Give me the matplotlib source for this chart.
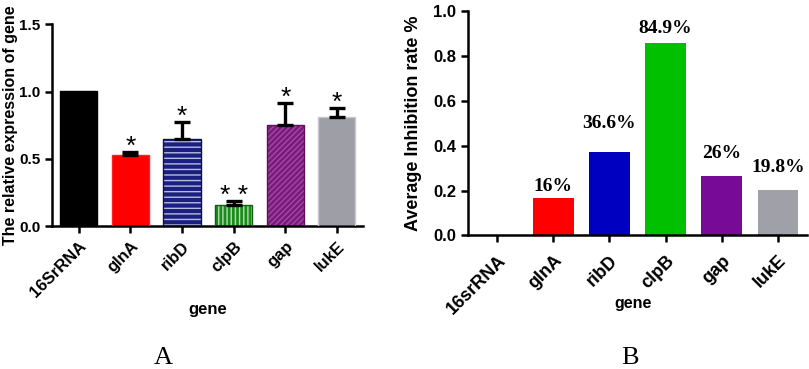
import numpy as np
import matplotlib
matplotlib.use("Agg")
import matplotlib.pyplot as plt

plt.rcParams['font.family'] = ['Liberation Sans', 'DejaVu Sans']
plt.rcParams['font.weight'] = 'bold'
plt.rcParams['hatch.linewidth'] = 1.0

# ---------- panel A data ----------
genes_a = ['16SrRNA', 'glnA', 'ribD', 'clpB', 'gap', 'lukE']
expr = [1.005, 0.53, 0.645, 0.158, 0.75, 0.81]
expr_err = [0.0, 0.024, 0.127, 0.03, 0.163, 0.068]
stars = ['', '*', '*', '* *', '*', '*']

# ---------- panel B data ----------
genes_b = ['16srRNA', 'glnA', 'ribD', 'clpB', 'gap', 'lukE']
inhib = [0.0, 0.165, 0.373, 0.857, 0.266, 0.203]
inhib_labels = ['', '16%', '36.6%', '84.9%', '26%', '19.8%']

fig = plt.figure(figsize=(8.09, 3.69), dpi=100)

# ---------------- A ----------------
ax1 = fig.add_axes([0.0643, 0.387, 0.384, 0.547])
x = np.arange(len(genes_a))
fills = ['#000000', '#ff0000', '#1a1f80', '#1e8a1e', '#7a1a7c', '#9e9ea6']
hatch_col = [None, None, '#b8bce0', '#a8e0a8', '#a04aa2', None]
hatches = [None, None, '---', '||||', '//////', None]
edges = ['#000000', '#ff2020', '#101050', '#106010', '#5a105a', '#c8c8cc']
for i in range(len(genes_a)):
    ax1.bar(x[i], expr[i], width=0.72, color=fills[i],
            edgecolor=hatch_col[i] if hatch_col[i] else fills[i],
            hatch=hatches[i], linewidth=0, zorder=2)
    ax1.bar(x[i], expr[i], width=0.72, fill=False, edgecolor=edges[i],
            linewidth=1.0, zorder=3)
    if expr_err[i] > 0:
        ax1.errorbar(x[i], expr[i], yerr=[[0], [expr_err[i]]], fmt='none',
                     ecolor='black', elinewidth=2.4, capsize=6, capthick=2.4,
                     zorder=4)
    if stars[i]:
        ax1.annotate(stars[i], (x[i], expr[i] + expr_err[i]),
                     xytext=(0, -5), textcoords='offset points',
                     ha='center', va='bottom', fontsize=19,
                     fontweight='normal')

ax1.set_xlim(-0.52, 5.5)
ax1.set_ylim(0, 1.5)
ax1.set_yticks([0.0, 0.5, 1.0, 1.5])
ax1.set_yticklabels(['0.0', '0.5', '1.0', '1.5'])
ax1.set_xticks(x)
ax1.set_xticklabels(genes_a, rotation=45, ha='right', rotation_mode='anchor')
ax1.set_xlabel('gene', fontsize=12, fontweight='bold', va='center')
ax1.xaxis.set_label_coords(0.5, -0.414)
ax1.set_ylabel('The relative expression of gene', fontsize=11.5,
               fontweight='bold', va='center')
ax1.yaxis.set_label_coords(-0.135, 0.5)
ax1.tick_params(axis='y', labelsize=11, width=1.8, length=5, direction='out')
ax1.tick_params(axis='x', labelsize=12, width=1.8, length=5, pad=4,
                direction='out')
for sp in ['top', 'right']:
    ax1.spines[sp].set_visible(False)
for sp in ['left', 'bottom']:
    ax1.spines[sp].set_linewidth(1.8)

# ---------------- B ----------------
ax2 = fig.add_axes([0.5785, 0.362, 0.419, 0.608])
xb = np.arange(len(genes_b))
colors_b = ['#000000', '#ff0000', '#0000c0', '#00c000', '#780a98', '#a0a0a8']
ax2.bar(xb, inhib, width=0.72, color=colors_b, zorder=2)
label_off = [0, 2.5, 14, 4.5, 10, 10]
for i in range(len(genes_b)):
    if inhib_labels[i]:
        ax2.annotate(inhib_labels[i], (xb[i], inhib[i]),
                     xytext=(0, label_off[i]), textcoords='offset points',
                     ha='center', va='bottom', fontsize=14,
                     family=['Liberation Serif', 'DejaVu Serif'],
                     fontweight='bold')

ax2.set_xlim(-0.52, 5.52)
ax2.set_ylim(0, 1.0)
ax2.set_yticks([0.0, 0.2, 0.4, 0.6, 0.8, 1.0])
ax2.set_yticklabels(['0.0', '0.2', '0.4', '0.6', '0.8', '1.0'])
ax2.set_xticks(xb)
ax2.set_xticklabels(genes_b, rotation=45, ha='right', rotation_mode='anchor')
ax2.set_xlabel('gene', fontsize=11.5, fontweight='bold', va='center')
ax2.xaxis.set_label_coords(0.488, -0.302)
ax2.set_ylabel('Average Inhibition rate %', fontsize=13, fontweight='bold',
               va='center')
ax2.yaxis.set_label_coords(-0.162, 0.5)
ax2.tick_params(axis='y', labelsize=12, width=1.8, length=5, direction='out')
ax2.tick_params(axis='x', labelsize=13, width=1.8, length=5, pad=7,
                direction='out')
for sp in ['top', 'right']:
    ax2.spines[sp].set_visible(False)
for sp in ['left', 'bottom']:
    ax2.spines[sp].set_linewidth(1.8)

fig.text(163 / 809, 1 - 358 / 369, 'A', ha='center', va='center',
         fontsize=19, family=['Liberation Serif', 'DejaVu Serif'],
         fontweight='normal')
fig.text(630 / 809, 1 - 358 / 369, 'B', ha='center', va='center',
         fontsize=19, family=['Liberation Serif', 'DejaVu Serif'],
         fontweight='normal')

fig.savefig('out.png', dpi=100)
